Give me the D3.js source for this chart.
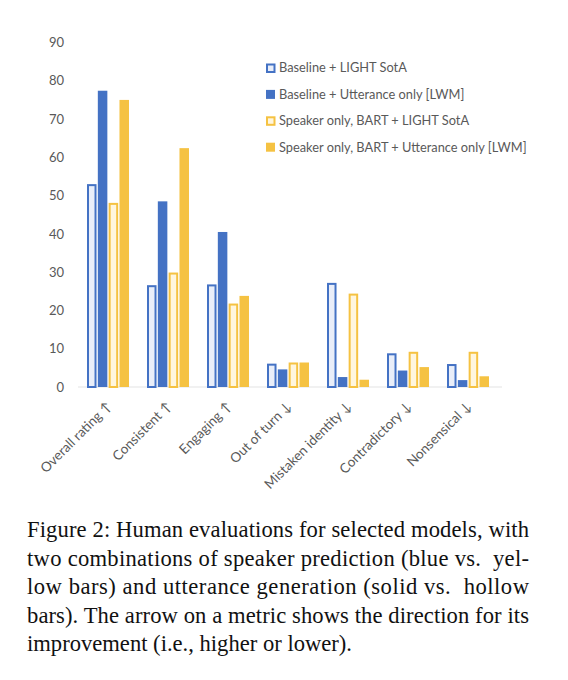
<!DOCTYPE html>
<html>
<head>
<meta charset="utf-8">
<script src="https://d3js.org/d3.v7.min.js"></script>
<style>
  body { margin: 0; background: #fff; }
  svg { display: block; }
</style>
</head>
<body>
<div id="chart"></div>
<script>
// Metrics (x categories), arrows show the improvement direction
const categories = ['Overall rating ↑', 'Consistent ↑', 'Engaging ↑', 'Out of turn ↓', 'Mistaken identity ↓', 'Contradictory ↓', 'Nonsensical ↓'];

const seriesNames = [
    'Baseline + LIGHT SotA',
    'Baseline + Utterance only [LWM]',
    'Speaker only, BART + LIGHT SotA',
    'Speaker only, BART + Utterance only [LWM]'
];

// values
const baselineLight = [53.0, 26.6, 26.8, 6.1, 27.2, 8.8, 6.0];
const baselineLwm = [77.4, 48.5, 40.5, 4.6, 2.6, 4.3, 1.8];
const speakerLight = [48.1, 29.9, 21.8, 6.4, 24.4, 9.2, 9.2];
const speakerLwm = [75.0, 62.4, 23.8, 6.4, 1.9, 5.2, 2.8];

const yTicks = [0, 10, 20, 30, 40, 50, 60, 70, 80, 90];

const captionLines = [
    'Figure 2: Human evaluations for selected models, with',
    'two combinations of speaker prediction (blue vs.\u00a0 yel-',
    'low bars) and utterance generation (solid vs.\u00a0 hollow',
    'bars). The arrow on a metric shows the direction for its',
    'improvement (i.e., higher or lower).'
];

const BLUE = '#4472c4', YELLOW = '#f5c242';
const styles = [
    { stroke: BLUE, fill: '#e9eef9', hollow: true },
    { stroke: BLUE, fill: BLUE, hollow: false },
    { stroke: YELLOW, fill: '#fff6de', hollow: true },
    { stroke: YELLOW, fill: YELLOW, hollow: false }
];
const allSeries = [baselineLight, baselineLwm, speakerLight, speakerLwm];

const width = 568, height = 680;
const svg = d3.select('#chart').append('svg')
    .attr('width', width)
    .attr('height', height);

const x0 = d3.scaleBand().domain(categories).range([78, 498]).paddingInner(0.3).paddingOuter(0.15);
const x1 = d3.scaleBand().domain(d3.range(4)).range([0, x0.bandwidth()]).paddingInner(0.12);
const y = d3.scaleLinear().domain([0, 90]).range([387, 42.5]);

// baseline
svg.append('line')
    .attr('x1', 78).attr('x2', 502)
    .attr('y1', y(0)).attr('y2', y(0))
    .attr('stroke', '#e4e4e4').attr('stroke-width', 1.2);

// y axis labels (no line)
const yAxis = svg.append('g')
    .attr('transform', 'translate(64,0)')
    .call(d3.axisLeft(y).tickValues(yTicks).tickSize(0).tickPadding(0));
yAxis.select('.domain').remove();
yAxis.selectAll('text')
    .attr('fill', '#595959')
    .style('font-family', 'Lato, sans-serif')
    .style('font-size', '13px');

// bars
const groups = svg.selectAll('.grp')
    .data(categories)
    .enter().append('g')
    .attr('transform', d => `translate(${x0(d)},0)`);

groups.selectAll('rect')
    .data((d, i) => allSeries.map((s, k) => ({ k, v: s[i] })))
    .enter().append('rect')
    .attr('x', d => x1(d.k) + (styles[d.k].hollow ? 1 : 0))
    .attr('y', d => y(d.v) + (styles[d.k].hollow ? 1 : 0))
    .attr('width', d => x1.bandwidth() - (styles[d.k].hollow ? 2 : 0))
    .attr('height', d => y(0) - y(d.v) - (styles[d.k].hollow ? 1 : 0))
    .attr('fill', d => styles[d.k].fill)
    .attr('stroke', d => styles[d.k].hollow ? styles[d.k].stroke : 'none')
    .attr('stroke-width', 2);

// x labels, rotated
svg.selectAll('.xlab')
    .data(categories)
    .enter().append('text')
    .attr('text-anchor', 'end')
    .attr('transform', d => `translate(${x0(d) + x0.bandwidth() / 2 + 1},${y(0) + 17}) rotate(-45)`)
    .attr('dy', '0.35em')
    .attr('fill', '#595959')
    .style('font-family', 'Lato, sans-serif')
    .style('font-size', '13.5px')
    .text(d => d);

// legend
const legend = svg.selectAll('.leg')
    .data(seriesNames)
    .enter().append('g')
    .attr('transform', (d, i) => `translate(266,${68 + i * 26.4})`);

legend.append('rect')
    .attr('x', d => styles[seriesNames.indexOf(d)].hollow ? 1 : 0)
    .attr('y', d => styles[seriesNames.indexOf(d)].hollow ? -3.5 : -4.5)
    .attr('width', d => styles[seriesNames.indexOf(d)].hollow ? 7.5 : 9)
    .attr('height', d => styles[seriesNames.indexOf(d)].hollow ? 7.5 : 9)
    .attr('fill', d => styles[seriesNames.indexOf(d)].fill)
    .attr('stroke', d => styles[seriesNames.indexOf(d)].hollow ? styles[seriesNames.indexOf(d)].stroke : 'none')
    .attr('stroke-width', 2);

legend.append('text')
    .attr('x', 13)
    .attr('dy', '0.35em')
    .attr('fill', '#595959')
    .style('font-family', 'Lato, sans-serif')
    .style('font-size', '12.8px')
    .text(d => d);

// caption, justified except the last line
svg.selectAll('.cap')
    .data(captionLines)
    .enter().append('text')
    .attr('x', 27)
    .attr('y', (d, i) => 537 + i * 28.5)
    .attr('fill', '#111')
    .style('font-family', '"Liberation Serif", "Times New Roman", serif')
    .style('font-size', '22.6px')
    .style('white-space', 'pre')
    .each(function (d, i) {
        if (i < captionLines.length - 1) {
            d3.select(this).attr('textLength', 502).attr('lengthAdjust', 'spacing');
        }
    })
    .text(d => d);
</script>
</body>
</html>
